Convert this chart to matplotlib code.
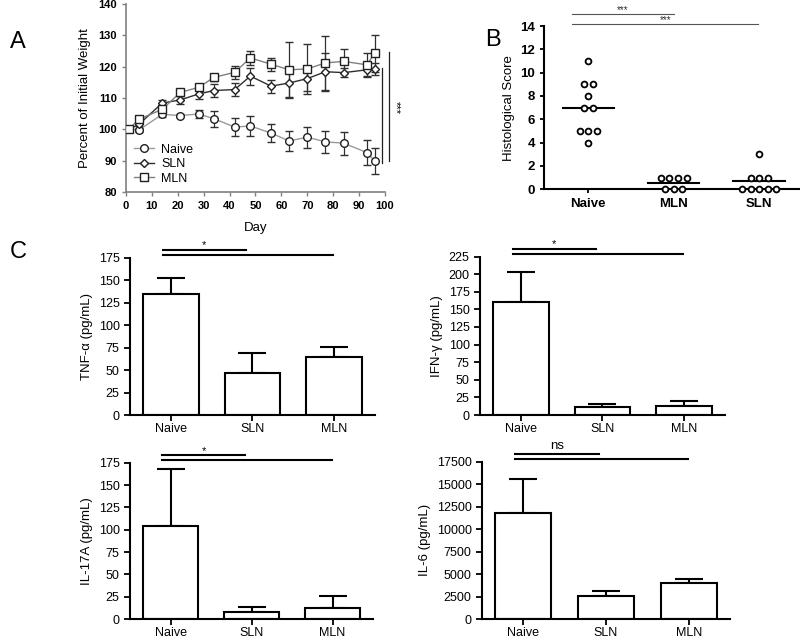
import numpy as np
import matplotlib
matplotlib.use('Agg')
import matplotlib.pyplot as plt
from matplotlib.lines import Line2D

plt.rcParams['font.family'] = ['Liberation Sans', 'DejaVu Sans']

# Panel A: weight curves
days = [1, 5, 14, 21, 28, 34, 42, 48, 56, 63, 70, 77, 84, 93, 96]
naive_w = [100, 99.8, 104.8, 104.4, 104.9, 103.4, 100.7, 101.1, 98.8, 96.3, 97.5, 96.0, 95.6, 92.6, 89.9]
naive_err = [0, 0.5, 0.8, 0.5, 1.4, 2.6, 2.8, 3.2, 2.9, 3.2, 3.4, 3.6, 3.7, 4.0, 4.3]
sln_w = [100, 101.6, 108.4, 109.4, 111.3, 112.4, 112.7, 117.0, 113.8, 114.8, 116.2, 118.4, 118.1, 119.0, 119.2]
sln_err = [0, 0.5, 1.0, 1.3, 1.5, 2.0, 2.2, 2.7, 2.1, 4.6, 4.0, 6.0, 1.5, 2.0, 2.0]
mln_w = [100, 103.2, 106.4, 111.8, 113.4, 116.6, 118.2, 122.8, 120.8, 119.0, 119.3, 121.2, 121.7, 120.6, 124.3]
mln_err = [0, 0.5, 1.5, 1.0, 1.0, 1.2, 2.0, 2.2, 2.1, 9.0, 8.0, 8.6, 3.8, 3.8, 5.9]

# Panel B: histological scores
hist_groups = ['Naive', 'MLN', 'SLN']
hist_naive = [11, 9, 9, 8, 7, 7, 5, 5, 5, 4]
hist_mln = [1, 1, 1, 1, 0, 0, 0]
hist_sln = [3, 1, 1, 1, 0, 0, 0, 0, 0]

# Panel C: cytokines
cyt_groups = ['Naive', 'SLN', 'MLN']
tnf_mean = [134, 47, 64]
tnf_err = [18, 22, 12]
ifn_mean = [160, 12, 13]
ifn_err = [43, 3, 7]
il17_mean = [104, 8, 12.6]
il17_err = [64, 5.5, 13]
il6_mean = [11800, 2550, 4020]
il6_err = [3740, 630, 480]

fig = plt.figure(figsize=(8, 6.39), dpi=100)

# ---------- Panel A ----------
axA = fig.add_axes([0.1575, 0.6995, 0.32375, 0.2942])
gray = '#808080'
series = [
    ('Naive', naive_w, naive_err, 'o', '#9a9a9a', 5.5),
    ('SLN', sln_w, sln_err, 'D', '#303030', 3.8),
    ('MLN', mln_w, mln_err, 's', '#808080', 5.5),
]
handles = []
for name, m, e, mk, lc, ms in series:
    axA.errorbar(days, m, yerr=e, color=lc, lw=1.0, marker=mk, ms=ms,
                 mfc='white', mec='#202020', mew=1.0, ecolor='#303030',
                 elinewidth=0.9, capsize=3, capthick=0.9, zorder=3)
    handles.append(Line2D([], [], color=lc, lw=1.0, marker=mk, ms=ms,
                          mfc='white', mec='#202020', mew=1.0, label=name))
axA.set_xlim(0, 100)
axA.set_ylim(80, 140)
axA.set_xticks(np.arange(0, 101, 10))
axA.set_yticks(np.arange(80, 141, 10))
for s in ['top', 'right']:
    axA.spines[s].set_visible(False)
for s in ['left', 'bottom']:
    axA.spines[s].set_color(gray)
    axA.spines[s].set_linewidth(1.2)
axA.tick_params(direction='out', length=3, width=1.0, color=gray, labelsize=8)
for lab in axA.get_xticklabels() + axA.get_yticklabels():
    lab.set_fontweight('bold')
axA.set_xlabel('Day', fontsize=9.5, labelpad=8)
axA.set_ylabel('Percent of Initial Weight', fontsize=9.5, labelpad=5)
axA.legend(handles=handles, loc='lower left', frameon=False, fontsize=9, handlelength=1.6,
           handletextpad=0.6, borderaxespad=0.2, labelspacing=0.2,
           bbox_to_anchor=(0.0, 0.0))
axA.plot([99, 99], [89.3, 119.5], color='#202020', lw=0.9, clip_on=False)
axA.plot([101.5, 101.5], [89.8, 124.6], color='#202020', lw=0.9, clip_on=False)
axA.text(104, 107, '***', rotation=-90, ha='center', va='center', fontsize=8, clip_on=False)
fig.text(0.012, 0.934, 'A', fontsize=17, va='center')

# ---------- Panel B ----------
axB = fig.add_axes([0.68, 0.7038, 0.32, 0.2555])
for i, vals in enumerate([hist_naive, hist_mln, hist_sln]):
    vals = np.array(vals)
    xs = np.zeros(len(vals))
    for v in np.unique(vals):
        idx = np.where(vals == v)[0]
        n = len(idx)
        xs[idx] = i + (np.arange(n) - (n - 1) / 2) * 0.1
    axB.plot(xs, vals, 'o', ms=4.2, mfc='white', mec='black', mew=1.3, clip_on=False, zorder=3)
    axB.plot([i - 0.3, i + 0.3], [vals.mean()] * 2, color='black', lw=1.5)
axB.set_xlim(-0.52, 2.48)
axB.set_ylim(0, 14)
axB.set_yticks(np.arange(0, 15, 2))
axB.set_xticks(range(3))
axB.set_xticklabels(hist_groups)
for s in ['top', 'right']:
    axB.spines[s].set_visible(False)
for s in ['left', 'bottom']:
    axB.spines[s].set_linewidth(1.5)
axB.tick_params(direction='out', length=3, width=1.3, labelsize=9.5)
for lab in axB.get_xticklabels() + axB.get_yticklabels():
    lab.set_fontweight('bold')
axB.set_ylabel('Histological Score', fontsize=9.5, labelpad=4)
tB = axB.get_xaxis_transform()
axB.plot([-0.19, 1.0], [1.072, 1.072], transform=tB, color='#555555', lw=0.8, clip_on=False)
axB.plot([-0.19, 1.99], [1.012, 1.012], transform=tB, color='#555555', lw=0.8, clip_on=False)
axB.text(0.4, 1.068, '***', transform=tB, ha='center', va='bottom', fontsize=7, color='#333333')
axB.text(0.9, 1.008, '***', transform=tB, ha='center', va='bottom', fontsize=7, color='#333333')
fig.text(0.606, 0.937, 'B', fontsize=17, va='center')

# ---------- Panel C ----------
def cyto_panel(rect, means, errs, ylabel, ymax, ystep, star):
    ax = fig.add_axes(rect)
    x = np.arange(3)
    ax.bar(x, means, width=0.68, color='white', edgecolor='black', lw=1.5, zorder=2)
    ax.errorbar(x, means, yerr=[[0, 0, 0], errs], fmt='none', ecolor='black',
                elinewidth=1.5, capsize=10, capthick=1.5, zorder=1)
    ax.set_xlim(-0.5, 2.5)
    ax.set_ylim(0, ymax)
    ax.set_yticks(np.arange(0, ymax + 1, ystep))
    ax.set_xticks(x)
    ax.set_xticklabels(cyt_groups)
    for s in ['top', 'right']:
        ax.spines[s].set_visible(False)
    for s in ['left', 'bottom']:
        ax.spines[s].set_linewidth(1.5)
    ax.tick_params(direction='out', length=4, width=1.3, labelsize=9)
    ax.tick_params(axis='x', pad=1.5)
    ax.set_ylabel(ylabel, fontsize=9.5, labelpad=4)
    t = ax.get_xaxis_transform()
    ax.plot([-0.1, 0.92], [1.047, 1.047], transform=t, color='black', lw=1.5, clip_on=False)
    ax.plot([-0.1, 1.99], [1.016, 1.016], transform=t, color='black', lw=1.5, clip_on=False)
    if star == 'ns':
        ax.text(0.41, 1.06, star, transform=t, ha='center', va='bottom', fontsize=9.5)
    else:
        ax.text(0.41, 1.045, star, transform=t, ha='center', va='bottom', fontsize=8)
    return ax

cyto_panel([0.1625, 0.3505, 0.30625, 0.2465], tnf_mean, tnf_err, 'TNF-α (pg/mL)', 175, 25, '*')
cyto_panel([0.6, 0.3505, 0.306, 0.248], ifn_mean, ifn_err, 'IFN-γ (pg/mL)', 225, 25, '*')
cyto_panel([0.1625, 0.031, 0.30375, 0.2449], il17_mean, il17_err, 'IL-17A (pg/mL)', 175, 25, '*')
cyto_panel([0.6025, 0.031, 0.31, 0.2465], il6_mean, il6_err, 'IL-6 (pg/mL)', 17500, 2500, 'ns')
fig.text(0.012, 0.606, 'C', fontsize=17, va='center')

fig.savefig('out.png', dpi=100)
